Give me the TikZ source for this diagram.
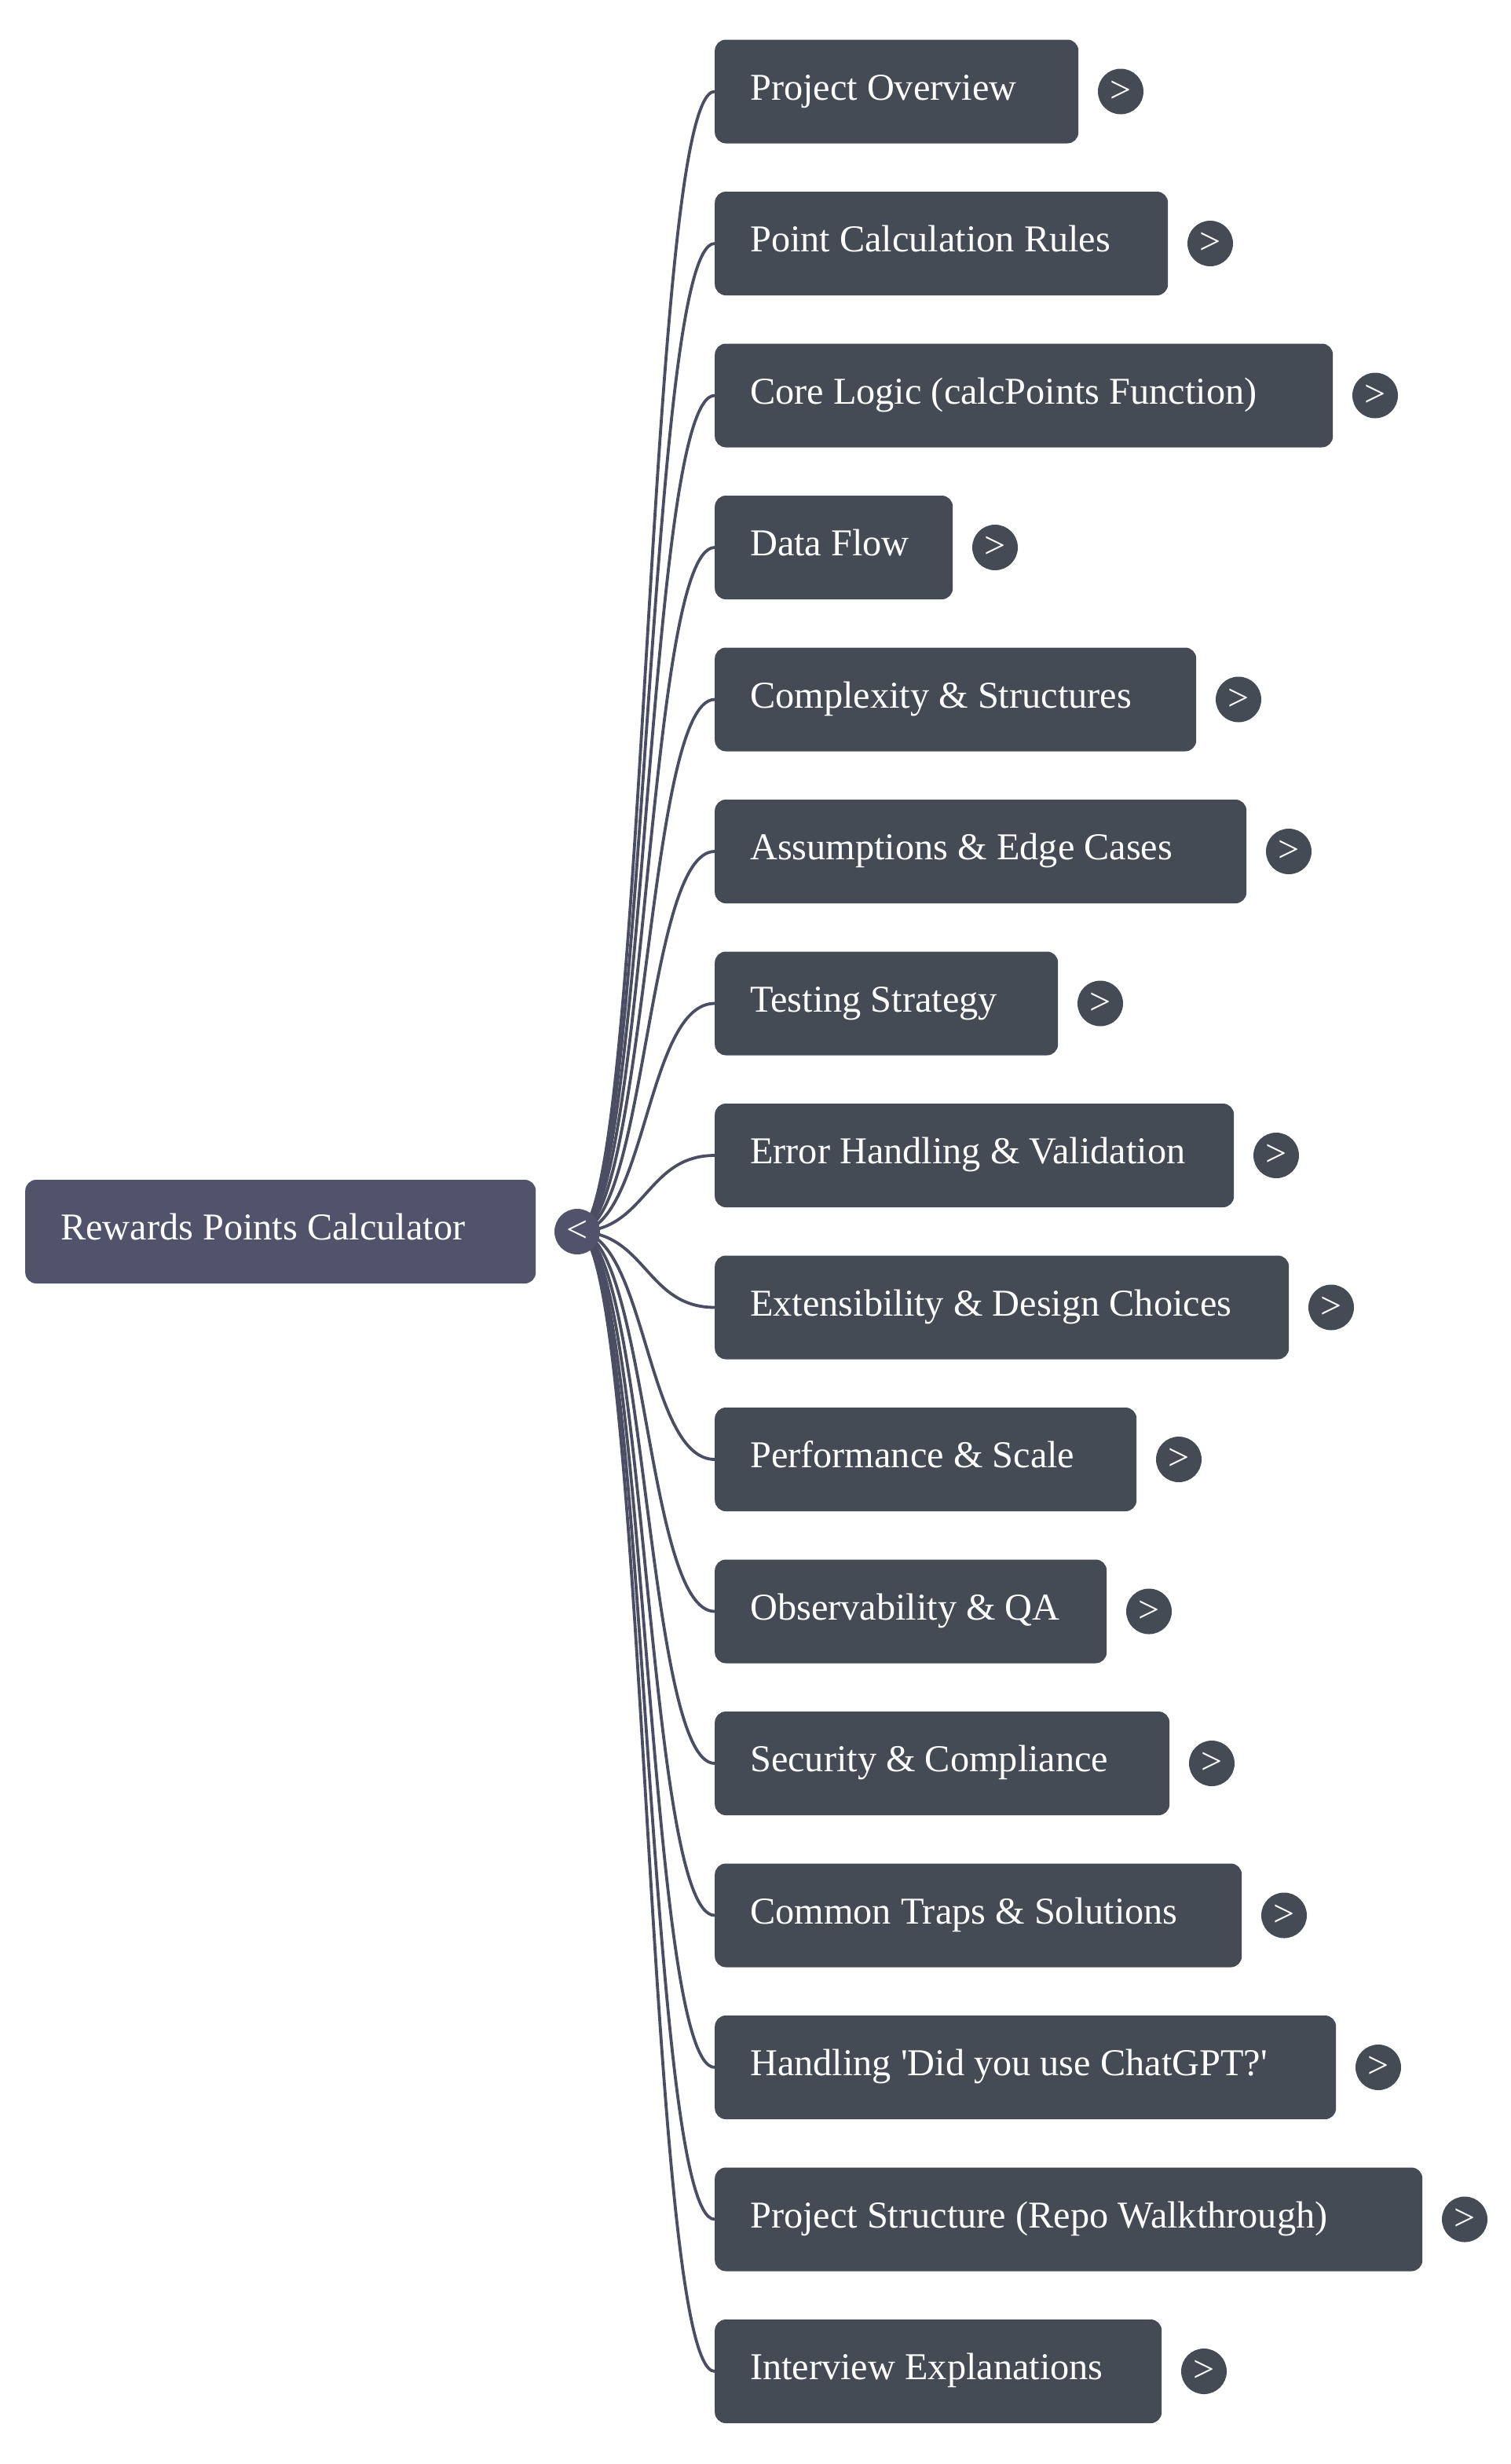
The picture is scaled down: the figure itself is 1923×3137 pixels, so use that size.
\documentclass[tikz,border=0pt]{standalone}
\usepackage{fontspec}
\setmainfont{Liberation Serif}
\definecolor{rootcol}{HTML}{50536A}
\definecolor{childcol}{HTML}{444B55}
\definecolor{linkcol}{HTML}{4B4D63}
\pgfdeclarelayer{background}
\pgfsetlayers{background,main}
\newcommand{\nsp}{\spaceskip=0pt\relax\xspaceskip=0pt\relax}
\begin{document}
\begin{tikzpicture}[x=1pt,y=-1pt,
  box/.style={rounded corners=14pt, minimum height=132pt, inner ysep=0pt, inner xsep=45pt,
    text=white, align=left, font=\fontsize{48.3}{58}\selectfont,
    text height=32pt, text depth=11pt, anchor=west},
  rootbox/.style={box, fill=rootcol},
  childbox/.style={box, fill=childcol},
  togglec/.style={circle, minimum size=58pt, inner sep=0pt, text=white,
    font=\fontsize{48}{58}\selectfont},
  link/.style={draw=linkcol, line width=3.8pt}]
\useasboundingbox (0,0) rectangle (1923,3137);
\node[rootbox, minimum width=650pt, text width=560pt] (root) at (32,1568) {\nsp Rewards Points Calculator};
\node[togglec, fill=rootcol] (rdot) at (735,1568) {<};
\foreach \i/\txt/\r in {
  1/Project Overview/1373,
  2/Point Calculation Rules/1487,
  3/Core Logic (calcPoints Function)/1697,
  4/Data Flow/1213,
  5/Complexity \& Structures/1523,
  6/Assumptions \& Edge Cases/1587,
  7/Testing Strategy/1347,
  8/Error Handling \& Validation/1571,
  9/Extensibility \& Design Choices/1641,
  10/Performance \& Scale/1447,
  11/Observability \& QA/1409,
  12/Security \& Compliance/1489,
  13/Common Traps \& Solutions/1581,
  14/Handling \textquotesingle Did you use ChatGPT?\textquotesingle/1701,
  15/Project Structure (Repo Walkthrough)/1811,
  16/Interview Explanations/1479}{
  \pgfmathsetmacro{\yy}{116.5+193.5*(\i-1)}
  \pgfmathsetmacro{\ww}{\r-910}
  \pgfmathsetmacro{\tw}{\r-1000}
  \pgfmathsetmacro{\cx}{\r+54}
  \node[childbox, minimum width=\ww pt, text width=\tw pt] (c\i) at (910,\yy) {\nsp\txt};
  \node[togglec, fill=childcol] (d\i) at (\cx,\yy) {>};
  \begin{pgfonlayer}{background}
    \draw[link] (rdot.center) .. controls (822.5,1568) and (822.5,\yy) .. (c\i.west);
  \end{pgfonlayer}
}
\end{tikzpicture}
\end{document}
